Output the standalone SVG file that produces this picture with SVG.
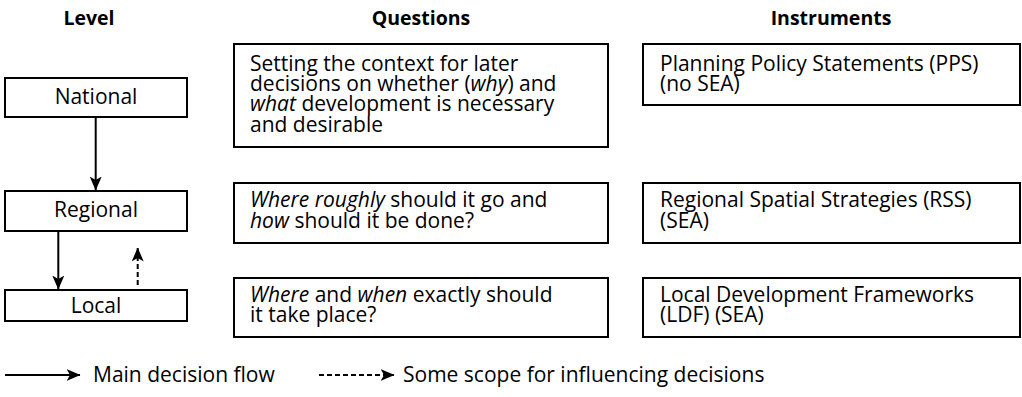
<svg xmlns="http://www.w3.org/2000/svg" width="1022" height="397" viewBox="0 0 1022 397">
  <style>
    text { font-family: "Open Sans", "Noto Sans", "Liberation Sans", sans-serif; font-size: 21px; fill: #000; }
    .hdr { font-weight: bold; font-size: 19.5px; text-anchor: middle; }
    .lbl { text-anchor: middle; }
    .box { fill: #fff; stroke: #000; stroke-width: 2; }
    .flow { stroke: #000; stroke-width: 2; fill: none; }
    .dash { stroke-dasharray: 5 3; }
    .it { font-style: italic; }
  </style>
  <defs>
    <marker id="arr" viewBox="0 0 14 12" refX="13.5" refY="6" markerWidth="14" markerHeight="12" markerUnits="userSpaceOnUse" orient="auto">
      <path d="M0,0 L14,6 L0,12 L3.5,6 Z" fill="#000"/>
    </marker>
  </defs>

  <!-- column headings -->
  <text class="hdr" x="89" y="25">Level</text>
  <text class="hdr" x="421" y="25">Questions</text>
  <text class="hdr" x="831" y="25">Instruments</text>

  <!-- levels -->
  <g id="national">
    <rect class="box" x="5" y="78" width="182" height="39"/>
    <text class="lbl" x="96" y="103.5">National</text>
  </g>
  <g id="regional">
    <rect class="box" x="5" y="191" width="182" height="40"/>
    <text class="lbl" x="96" y="217">Regional</text>
  </g>
  <g id="local">
    <rect class="box" x="5" y="290" width="182" height="31"/>
    <text class="lbl" x="96" y="312.5">Local</text>
  </g>

  <!-- questions -->
  <g id="q-national">
    <rect class="box" x="234" y="44" width="374" height="103"/>
    <text x="250" y="70.7">Setting the context for later</text>
    <text x="250" y="91">decisions on whether (<tspan class="it">why</tspan>) and</text>
    <text x="250" y="111.3"><tspan class="it">what</tspan> development is necessary</text>
    <text x="250" y="131.6">and desirable</text>
  </g>
  <g id="q-regional">
    <rect class="box" x="234" y="183" width="374" height="60"/>
    <text x="250" y="207.3"><tspan class="it">Where roughly</tspan> should it go and</text>
    <text x="250" y="228"><tspan class="it">how</tspan> should it be done?</text>
  </g>
  <g id="q-local">
    <rect class="box" x="234" y="278" width="374" height="59"/>
    <text x="250" y="301.7"><tspan class="it">Where</tspan> and <tspan class="it">when</tspan> exactly should</text>
    <text x="250" y="322">it take place?</text>
  </g>

  <!-- instruments -->
  <g id="i-national">
    <rect class="box" x="643" y="44" width="377" height="61"/>
    <text x="660" y="70.7">Planning Policy Statements (PPS)</text>
    <text x="660" y="91">(no SEA)</text>
  </g>
  <g id="i-regional">
    <rect class="box" x="643" y="183" width="377" height="60"/>
    <text x="660" y="207.3">Regional Spatial Strategies (RSS)</text>
    <text x="660" y="228">(SEA)</text>
  </g>
  <g id="i-local">
    <rect class="box" x="643" y="278" width="377" height="59"/>
    <text x="660" y="301.7">Local Development Frameworks</text>
    <text x="660" y="322">(LDF) (SEA)</text>
  </g>

  <!-- connectors -->
  <g id="connectors">
    <line class="flow" x1="95.7" y1="117" x2="95.7" y2="190" marker-end="url(#arr)"/>
    <line class="flow" x1="58.3" y1="231" x2="58.3" y2="289" marker-end="url(#arr)"/>
    <line class="flow dash" x1="137.7" y1="285" x2="137.7" y2="248" marker-end="url(#arr)"/>
  </g>

  <!-- legend -->
  <g id="legend">
    <line class="flow" x1="5" y1="375" x2="80" y2="375" marker-end="url(#arr)"/>
    <text x="93" y="382">Main decision flow</text>
    <line class="flow dash" x1="319" y1="375" x2="394" y2="375" marker-end="url(#arr)"/>
    <text x="403" y="382">Some scope for influencing decisions</text>
  </g>
</svg>
